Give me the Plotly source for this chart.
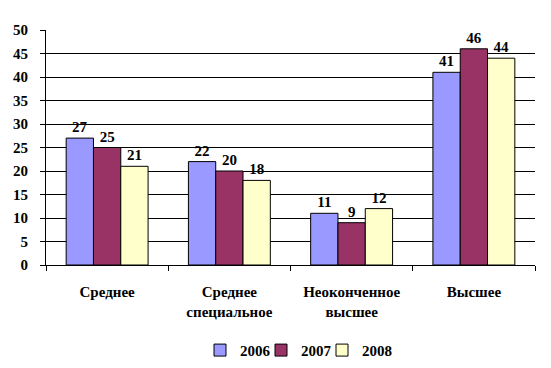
import plotly.graph_objects as go

categories = ["Среднее", "Среднее<br>специальное", "Неоконченное<br>высшее", "Высшее"]
years = ["2006", "2007", "2008"]
values_2006 = [27, 22, 11, 41]
values_2007 = [25, 20, 9, 46]
values_2008 = [21, 18, 12, 44]
colors = ["#9999FF", "#993366", "#FFFFCC"]

font_family = "Liberation Serif, Times New Roman, serif"

fig = go.Figure()
for name, vals, col in zip(years, [values_2006, values_2007, values_2008], colors):
    fig.add_trace(go.Bar(
        x=categories, y=vals, name=name,
        marker=dict(color=col, line=dict(color="black", width=1)),
        text=[str(v) for v in vals], textposition="outside",
        textfont=dict(family=font_family, size=15, color="black", weight="bold"),
        cliponaxis=False,
    ))
# invisible legend spacer so that the last legend label is not clipped
fig.add_trace(go.Scatter(x=[None], y=[None], name=" ", mode="markers", showlegend=True,
                         marker=dict(color="rgba(0,0,0,0)", size=1),
                         hoverinfo="skip"))

fig.update_layout(
    width=551, height=368,
    margin=dict(l=46, r=16, t=30, b=103),
    paper_bgcolor="white", plot_bgcolor="white",
    barmode="group", bargap=0.33, bargroupgap=0,
    font=dict(family=font_family, size=14, color="black", weight="bold"),
    showlegend=True,
    legend=dict(orientation="h", x=200 / 551, xanchor="left", y=0.048, yanchor="middle",
                yref="container", xref="container",
                font=dict(family=font_family, size=15, color="black", weight="bold"),
                entrywidth=16, entrywidthmode="pixels", itemwidth=30,
                tracegroupgap=0),
    xaxis=dict(showline=True, linecolor="black", linewidth=1, ticks="outside",
               tickson="boundaries", ticklen=5, tickcolor="black", automargin=False,
               ticklabelstandoff=13,
               tickfont=dict(family=font_family, size=15, color="black", weight="bold")),
    yaxis=dict(range=[0, 50], dtick=5, showgrid=True, gridcolor="black", gridwidth=1,
               showline=True, linecolor="black", linewidth=1, ticks="outside",
               ticklen=5, tickcolor="black", zeroline=False, automargin=False,
               ticklabelstandoff=9,
               tickfont=dict(family=font_family, size=15, color="black", weight="bold")),
)

fig.write_html("out.html", post_script="document.body.style.margin='0';",
               config={"displayModeBar": False})
